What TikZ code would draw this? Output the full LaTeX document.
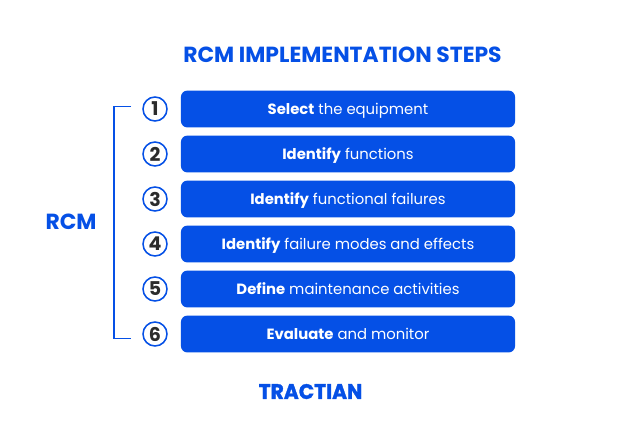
\documentclass[tikz,border=0pt]{standalone}
\usepackage{fontspec}
\setmainfont{Poppins}
\newfontfamily\logofont[UprightFont={* Bold},FakeBold=1.6]{Poppins}
\definecolor{tblue}{HTML}{0550E6}
\definecolor{tdark}{HTML}{2B2B2B}
\tikzset{
	stepbox/.style={rectangle,draw=none,fill=tblue,rounded corners=4.5pt,minimum width=8.35cm,minimum height=0.92cm,inner sep=0pt,text height=9pt,text depth=1.4pt,text=white,font=\fontsize{10.55pt}{12pt}\selectfont},
	numcirc/.style={circle,draw=tblue,line width=1.1pt,fill=white,minimum size=0.6cm,inner sep=0pt,text=tdark,font=\fontsize{13.5pt}{15pt}\selectfont\bfseries},
	heading/.style={text=tblue,inner sep=0pt,font=\fontsize{15.55pt}{16pt}\selectfont\bfseries}
}
\begin{document}
\begin{tikzpicture}[x=0.025cm,y=-0.025cm]
		\useasboundingbox (0,0) rectangle (620,423);
		\fill[white] (0,0) rectangle (620,423);
		
		\node[heading] (title) at (342.5,55) {RCM IMPLEMENTATION STEPS};
		\node[heading] (rcm) at (71,222) {RCM};
		
		% Steps with their numbers
		\foreach \n/\y/\a/\b in {1/109/Select/the equipment, 2/154/Identify/functions, 3/199/Identify/functional failures, 4/244/Identify/failure modes and effects, 5/289/Define/maintenance activities, 6/334/Evaluate/and monitor}{
			\node[stepbox] (s\n) at (348,\y) {\textbf{\a} \b};
			\node[numcirc] (n\n) at (155,\y) {\n};
		}
		
		% Bracket
		\coordinate (brtop) at (131,106.5);
		\coordinate (brbot) at (131,338.5);
		\coordinate (brleft) at (114,222);
		\draw[tblue,line width=1.1pt] (brtop) -| (brleft) |- (brbot);
		
		\node[text=tblue,inner sep=0pt,font=\fontsize{15pt}{15pt}\logofont,xscale=0.96] (logo) at (310.5,391.5) {TRACTIAN};
	\end{tikzpicture}
\end{document}
